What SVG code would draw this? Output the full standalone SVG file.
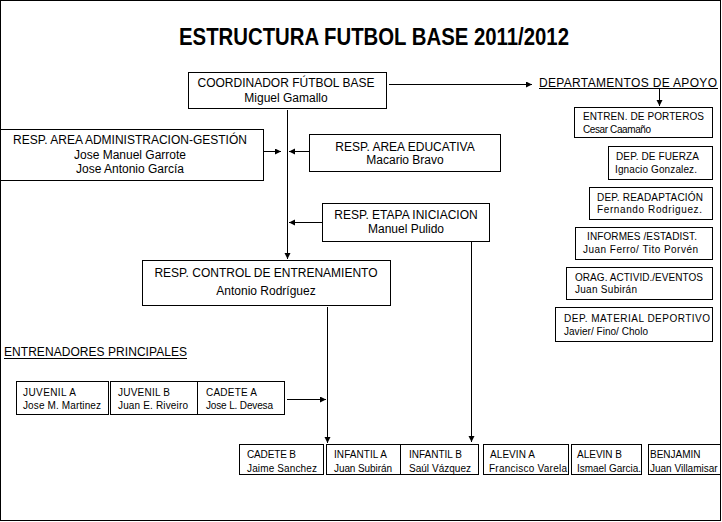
<svg xmlns="http://www.w3.org/2000/svg" width="722" height="522" viewBox="0 0 722 522">
<style>
.box{fill:#fff;stroke:#000;stroke-width:1}
.t{font-family:"Liberation Sans",Arial,sans-serif;font-size:12px;fill:#000}
.s{font-family:"Liberation Sans",Arial,sans-serif;font-size:10px;fill:#000}
.c{text-anchor:middle}
.ln{stroke:#000;stroke-width:1;fill:none}
</style>
<defs>
<marker id="ah" markerUnits="userSpaceOnUse" markerWidth="7" markerHeight="7" refX="6" refY="3" orient="auto">
<path d="M0,0 L6,3 L0,6 z" fill="#000"/>
</marker>
</defs>
<rect x="0.5" y="0.5" width="720" height="520" fill="#fff" stroke="#000"/>
<text x="374" y="45" font-family="Liberation Sans,Arial,sans-serif" font-size="23" font-weight="bold" text-anchor="middle" textLength="390" lengthAdjust="spacingAndGlyphs">ESTRUCTURA FUTBOL BASE 2011/2012</text>

<g id="connectors">
<line class="ln" x1="287.5" y1="110" x2="287.5" y2="259" marker-end="url(#ah)"/>
<line class="ln" x1="263" y1="151.5" x2="281" y2="151.5" marker-end="url(#ah)"/>
<line class="ln" x1="309" y1="151.5" x2="289" y2="151.5" marker-end="url(#ah)"/>
<line class="ln" x1="322" y1="222.5" x2="289" y2="222.5" marker-end="url(#ah)"/>
<line class="ln" x1="389" y1="84.5" x2="532" y2="84.5" marker-end="url(#ah)"/>
<line class="ln" x1="659.5" y1="89" x2="659.5" y2="106" marker-end="url(#ah)"/>
<line class="ln" x1="327.5" y1="307" x2="327.5" y2="443" marker-end="url(#ah)"/>
<line class="ln" x1="471.5" y1="241" x2="471.5" y2="442" marker-end="url(#ah)"/>
<line class="ln" x1="287" y1="399.5" x2="326" y2="399.5" marker-end="url(#ah)"/>
</g>

<g id="coordinador">
<rect class="box" x="188.5" y="72.5" width="198" height="36"/>
<text class="t c" x="286" y="87">COORDINADOR FÚTBOL BASE</text>
<text class="t c" x="286" y="101.5">Miguel Gamallo</text>
</g>

<g id="admin">
<rect class="box" x="0.5" y="129.5" width="263" height="51"/>
<text class="t c" x="130" y="144">RESP. AREA ADMINISTRACION-GESTIÓN</text>
<text class="t c" x="130" y="159">Jose Manuel Garrote</text>
<text class="t c" x="130" y="173">Jose Antonio García</text>
</g>

<g id="educativa">
<rect class="box" x="309.5" y="134.5" width="191" height="37"/>
<text class="t c" x="405" y="151">RESP. AREA EDUCATIVA</text>
<text class="t c" x="405" y="164">Macario Bravo</text>
</g>

<g id="iniciacion">
<rect class="box" x="322.5" y="203.5" width="167" height="38"/>
<text class="t c" x="406" y="219">RESP. ETAPA INICIACION</text>
<text class="t c" x="406" y="233">Manuel Pulido</text>
</g>

<g id="control">
<rect class="box" x="142.5" y="260.5" width="248" height="45"/>
<text class="t c" x="266" y="277">RESP. CONTROL DE ENTRENAMIENTO</text>
<text class="t c" x="266" y="295">Antonio Rodríguez</text>
</g>

<g id="departamentos">
<text class="t" x="539" y="86.5" textLength="178">DEPARTAMENTOS DE APOYO</text>
<line class="ln" x1="539" y1="88.5" x2="718" y2="88.5"/>
</g>

<g id="porteros">
<rect class="box" x="574.5" y="107.5" width="138" height="30"/>
<text class="s" x="583" y="120" textLength="121">ENTREN. DE PORTEROS</text>
<text class="s" x="583" y="133" textLength="68">Cesar Caamaño</text>
</g>

<g id="fuerza">
<rect class="box" x="608.5" y="146.5" width="104" height="33"/>
<text class="s" x="616" y="160" textLength="83">DEP. DE FUERZA</text>
<text class="s" x="615" y="172.5" textLength="82">Ignacio Gonzalez.</text>
</g>

<g id="readaptacion">
<rect class="box" x="589.5" y="187.5" width="123" height="32"/>
<text class="s" x="597" y="200.5" textLength="106">DEP. READAPTACIÓN</text>
<text class="s" x="597" y="213" textLength="105">Fernando Rodriguez.</text>
</g>

<g id="informes">
<rect class="box" x="575.5" y="227.5" width="137" height="32"/>
<text class="s" x="587" y="239.5" textLength="110">INFORMES /ESTADIST.</text>
<text class="s" x="583" y="252.5" textLength="115">Juan Ferro/ Tito Porvén</text>
</g>

<g id="eventos">
<rect class="box" x="566.5" y="267.5" width="146" height="32"/>
<text class="s" x="575" y="280.5" textLength="128">ORAG. ACTIVID./EVENTOS</text>
<text class="s" x="575" y="293" textLength="62">Juan Subirán</text>
</g>

<g id="material">
<rect class="box" x="555.5" y="307.5" width="157" height="34"/>
<text class="s" x="564" y="321.5" textLength="146">DEP. MATERIAL DEPORTIVO</text>
<text class="s" x="564" y="335" textLength="84">Javier/ Fino/ Cholo</text>
</g>

<g id="entrenadores">
<text class="t" x="4" y="356" textLength="183">ENTRENADORES PRINCIPALES</text>
<line class="ln" x1="4" y1="358.5" x2="187" y2="358.5"/>
</g>

<g id="juvenilA">
<rect class="box" x="16.5" y="381.5" width="92" height="33"/>
<text class="s" x="23" y="395.5" textLength="53">JUVENIL A</text>
<text class="s" x="23" y="408.5" textLength="78">Jose M. Martinez</text>
</g>
<g id="juvenilB">
<rect class="box" x="110.5" y="381.5" width="87" height="33"/>
<text class="s" x="118" y="395.5" textLength="52">JUVENIL B</text>
<text class="s" x="118" y="408.5" textLength="70">Juan E. Riveiro</text>
</g>
<g id="cadeteA">
<rect class="box" x="197.5" y="381.5" width="87" height="33"/>
<text class="s" x="206" y="395.5" textLength="51">CADETE A</text>
<text class="s" x="206" y="408.5" textLength="67">Jose L. Devesa</text>
</g>

<g id="cadeteB">
<rect class="box" x="239.5" y="444.5" width="84" height="30"/>
<text class="s" x="247" y="458" textLength="49">CADETE B</text>
<text class="s" x="247" y="471.5" textLength="70">Jaime Sanchez</text>
</g>
<g id="infantilA">
<rect class="box" x="326.5" y="444.5" width="74" height="30"/>
<text class="s" x="334" y="458" textLength="53">INFANTIL A</text>
<text class="s" x="334" y="471.5" textLength="58">Juan Subirán</text>
</g>
<g id="infantilB">
<rect class="box" x="400.5" y="444.5" width="78" height="30"/>
<text class="s" x="409" y="458" textLength="53">INFANTIL B</text>
<text class="s" x="409" y="471.5" textLength="62">Saúl Vázquez</text>
</g>
<g id="alevinA">
<rect class="box" x="483.5" y="444.5" width="85" height="30"/>
<text class="s" x="490" y="458" textLength="45">ALEVIN A</text>
<text class="s" x="489" y="471.5" textLength="78">Francisco Varela</text>
</g>
<g id="alevinB">
<rect class="box" x="571.5" y="444.5" width="70" height="30"/>
<text class="s" x="577" y="458" textLength="45">ALEVIN B</text>
<text class="s" x="577" y="471.5" textLength="64">Ismael Garcia.</text>
</g>
<g id="benjamin">
<rect class="box" x="648.5" y="444.5" width="72" height="30"/>
<text class="s" x="650" y="458">BENJAMIN</text>
<text class="s" x="650" y="471.5">Juan Villamisar</text>
</g>
</svg>
